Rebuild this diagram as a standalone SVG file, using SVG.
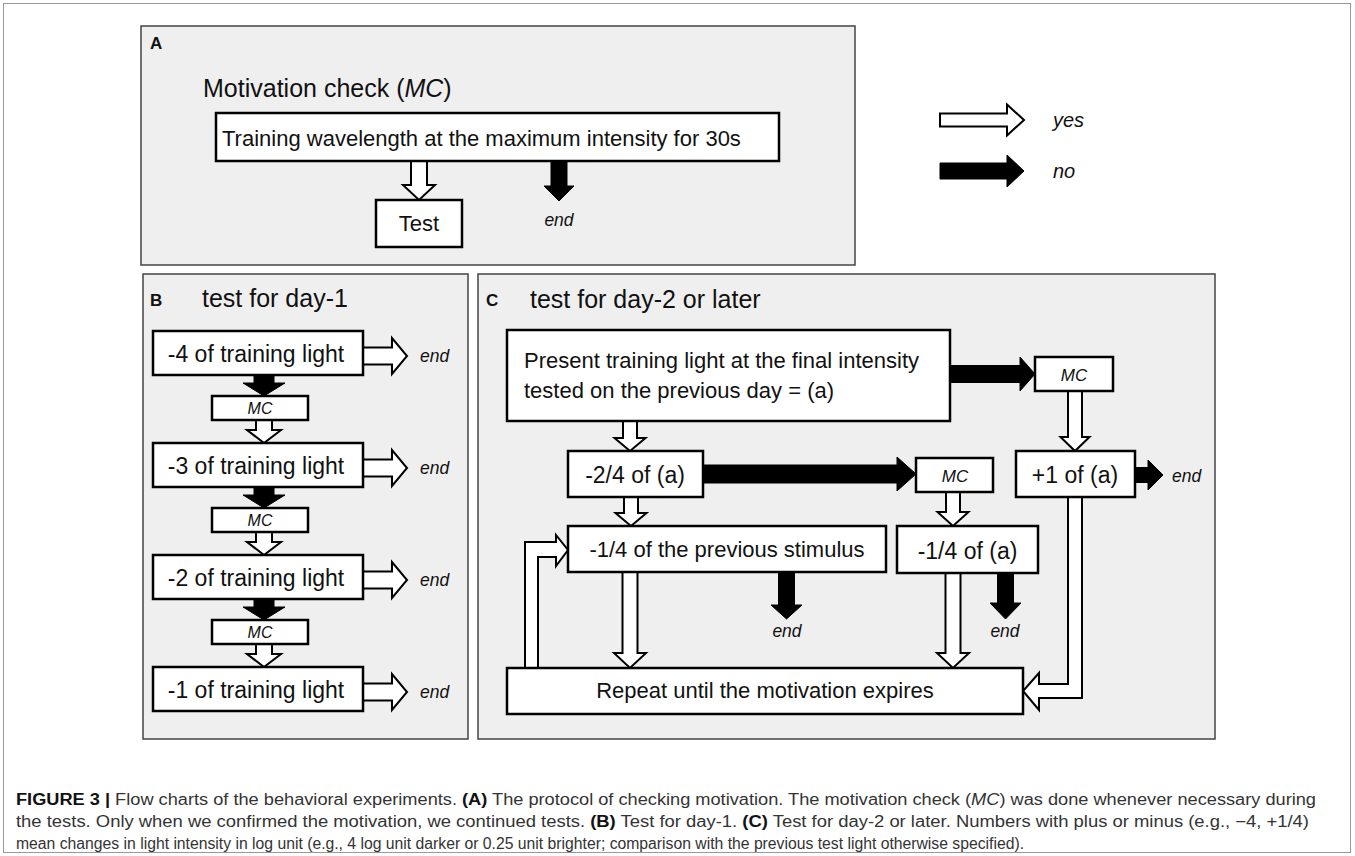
<svg xmlns="http://www.w3.org/2000/svg" width="1355" height="856" viewBox="0 0 1355 856">
<style>
  text { font-family: "Liberation Sans", Arial, sans-serif; fill: #111; }
  .panel { fill: #efefef; stroke: #444; stroke-width: 1.5; }
  .box { fill: #fff; stroke: #000; stroke-width: 2.5; }
  .t { font-size: 22px; }
  .tb { font-size: 23px; }
  .title { font-size: 25px; }
  .lab { font-size: 17px; font-weight: bold; }
  .mc { font-style: italic; }
  .end { font-size: 17.5px; font-style: italic; }
  .yes { fill: #fff; stroke: #000; stroke-width: 2; stroke-linejoin: miter; }
  .no { fill: #000; stroke: #000; stroke-width: 1; }
  .cap { font-size: 16px; fill: #333; }
  .capb { font-weight: bold; fill: #111; }
</style>
<rect x="3.5" y="3.5" width="1347" height="849" fill="#fff" stroke="#999" stroke-width="1"/>

<!-- panels -->
<g id="panelA">
  <rect class="panel" x="141" y="26" width="714" height="239"/>
  <text class="lab" x="150" y="49">A</text>
  <text class="title" x="203" y="97">Motivation check (<tspan class="mc">MC</tspan>)</text>
</g>
<g id="panelB">
  <rect class="panel" x="143" y="274" width="325" height="465"/>
  <text class="lab" x="150" y="306">B</text>
  <text class="title" x="202" y="307">test for day-1</text>
</g>
<g id="panelC">
  <rect class="panel" x="478" y="274" width="737" height="465"/>
  <text class="lab" x="486" y="306">C</text>
  <text class="title" x="530" y="308">test for day-2 or later</text>
</g>

<!-- legend -->
<g id="legend">
  <path class="yes" d="M940,113.5 L1007,113.5 L1007,104.5 L1024,120 L1007,135.5 L1007,126.5 L940,126.5 Z"/>
  <text class="mc" x="1053" y="127" font-size="20">yes</text>
  <path class="no" d="M940,163 L1007,163 L1007,155 L1024,171 L1007,187 L1007,179 L940,179 Z"/>
  <text class="mc" x="1053" y="178" font-size="20">no</text>
</g>

<!-- connectors -->
<g id="connectors">
  <!-- A -->
  <path class="yes" d="M411,161 L427,161 L427,185 L435,185 L419,200 L403,185 L411,185 Z"/>
  <path class="no" d="M551,161 L567,161 L567,186 L574,186 L559,201 L544,186 L551,186 Z"/>
  <!-- B: right hollow arrows -->
  <path class="yes" d="M363,347.5 L392,347.5 L392,338 L407,356 L392,374 L392,364.5 L363,364.5 Z"/>
  <path class="yes" d="M363,459.5 L392,459.5 L392,450 L407,468 L392,486 L392,476.5 L363,476.5 Z"/>
  <path class="yes" d="M363,571.5 L392,571.5 L392,562 L407,580 L392,598 L392,588.5 L363,588.5 Z"/>
  <path class="yes" d="M363,683.5 L392,683.5 L392,674 L407,692 L392,710 L392,700.5 L363,700.5 Z"/>
  <!-- B: black down arrows -->
  <path class="no" d="M254,375 L274,375 L274,383 L285,383 L264,396 L243,383 L254,383 Z"/>
  <path class="no" d="M254,487 L274,487 L274,495 L285,495 L264,508 L243,495 L254,495 Z"/>
  <path class="no" d="M254,599 L274,599 L274,607 L285,607 L264,620 L243,607 L254,607 Z"/>
  <!-- B: hollow down arrows -->
  <path class="yes" d="M256,420 L272,420 L272,430 L281,430 L264,443 L247,430 L256,430 Z"/>
  <path class="yes" d="M256,532 L272,532 L272,542 L281,542 L264,555 L247,542 L256,542 Z"/>
  <path class="yes" d="M256,644 L272,644 L272,654 L281,654 L264,667 L247,654 L256,654 Z"/>
  <!-- C -->
  <path class="no" d="M950,365.5 L1020,365.5 L1020,357 L1035,374 L1020,391 L1020,382.5 L950,382.5 Z"/>
  <path class="yes" d="M1068,391 L1082,391 L1082,437 L1089.5,437 L1075,451 L1060.5,437 L1068,437 Z"/>
  <path class="no" d="M1135,467.5 L1148,467.5 L1148,460 L1163,475 L1148,490 L1148,482.5 L1135,482.5 Z"/>
  <path class="yes" d="M623,421 L637,421 L637,438 L645.5,438 L630,451 L614.5,438 L623,438 Z"/>
  <path class="no" d="M703,465 L897,465 L897,457 L916,474 L897,491 L897,483 L703,483 Z"/>
  <path class="yes" d="M624,497 L638,497 L638,513 L646.5,513 L631,526 L615.5,513 L624,513 Z"/>
  <path class="yes" d="M946,492 L960,492 L960,512 L968.5,512 L953,526 L937.5,512 L946,512 Z"/>
  <path class="yes" d="M622.5,572 L637.5,572 L637.5,653 L646,653 L630,668 L614,653 L622.5,653 Z"/>
  <path class="no" d="M778.5,572 L794.5,572 L794.5,605 L802,605 L786.5,619 L771,605 L778.5,605 Z"/>
  <path class="yes" d="M945.5,573 L960.5,573 L960.5,653 L969,653 L953,668 L937,653 L945.5,653 Z"/>
  <path class="no" d="M997.5,573 L1013.5,573 L1013.5,603 L1021,603 L1005.5,619 L990,603 L997.5,603 Z"/>
  <path class="yes" d="M525,668 L525,542 L556,542 L556,535 L568,550 L556,566 L556,557 L538,557 L538,668 Z"/>
  <path class="yes" d="M1068,497 L1068,684 L1039,684 L1039,673 L1023,691 L1039,710 L1039,698 L1082,698 L1082,497 Z"/>
</g>

<!-- nodes panel A -->
<g id="nA1">
  <rect class="box" x="216" y="113" width="563" height="48"/>
  <text class="t" x="222" y="146">Training wavelength at the maximum intensity for 30s</text>
</g>
<g id="nA2">
  <rect class="box" x="376" y="200" width="86" height="47"/>
  <text class="t" x="419" y="231" text-anchor="middle">Test</text>
</g>
<text class="end" x="559" y="226" text-anchor="middle">end</text>

<!-- nodes panel B -->
<g id="nB1">
  <rect class="box" x="153" y="331" width="210" height="44"/>
  <text class="tb" x="256" y="362" text-anchor="middle">-4 of training light</text>
</g>
<g id="nBmc1">
  <rect class="box" x="212" y="396" width="96" height="24"/>
  <text class="mc" x="260" y="414" font-size="16" text-anchor="middle">MC</text>
</g>
<g id="nB2">
  <rect class="box" x="153" y="443" width="210" height="44"/>
  <text class="tb" x="256" y="474" text-anchor="middle">-3 of training light</text>
</g>
<g id="nBmc2">
  <rect class="box" x="212" y="508" width="96" height="24"/>
  <text class="mc" x="260" y="526" font-size="16" text-anchor="middle">MC</text>
</g>
<g id="nB3">
  <rect class="box" x="153" y="555" width="210" height="44"/>
  <text class="tb" x="256" y="586" text-anchor="middle">-2 of training light</text>
</g>
<g id="nBmc3">
  <rect class="box" x="212" y="620" width="96" height="24"/>
  <text class="mc" x="260" y="638" font-size="16" text-anchor="middle">MC</text>
</g>
<g id="nB4">
  <rect class="box" x="153" y="667" width="210" height="44"/>
  <text class="tb" x="256" y="698" text-anchor="middle">-1 of training light</text>
</g>
<text class="end" x="420" y="362">end</text>
<text class="end" x="420" y="474">end</text>
<text class="end" x="420" y="586">end</text>
<text class="end" x="420" y="698">end</text>

<!-- nodes panel C -->
<g id="nC1">
  <rect class="box" x="507" y="330" width="443" height="91"/>
  <text class="t" x="524" y="368">Present training light at the final intensity</text>
  <text class="t" x="524" y="398">tested on the previous day = (a)</text>
</g>
<g id="nCmc1">
  <rect class="box" x="1035" y="357" width="78" height="34"/>
  <text class="mc" x="1074" y="381" font-size="17" text-anchor="middle">MC</text>
</g>
<g id="nCplus">
  <rect class="box" x="1016" y="451" width="119" height="46"/>
  <text class="tb" x="1075" y="483" text-anchor="middle">+1 of (a)</text>
</g>
<g id="nC24">
  <rect class="box" x="568" y="451" width="135" height="46"/>
  <text class="tb" x="635" y="483" text-anchor="middle">-2/4 of (a)</text>
</g>
<g id="nCmc2">
  <rect class="box" x="916" y="458" width="77" height="34"/>
  <text class="mc" x="955" y="482" font-size="17" text-anchor="middle">MC</text>
</g>
<g id="nCprev">
  <rect class="box" x="568" y="526" width="318" height="46"/>
  <text class="t" x="727" y="557" text-anchor="middle">-1/4 of the previous stimulus</text>
</g>
<g id="nC14">
  <rect class="box" x="897" y="526" width="141" height="47"/>
  <text class="tb" x="967.5" y="559" text-anchor="middle">-1/4 of (a)</text>
</g>
<g id="nCrep">
  <rect class="box" x="507" y="668" width="516" height="46"/>
  <text class="t" x="765" y="698" text-anchor="middle">Repeat until the motivation expires</text>
</g>
<text class="end" x="1172" y="482">end</text>
<text class="end" x="787" y="637" text-anchor="middle">end</text>
<text class="end" x="1005" y="637" text-anchor="middle">end</text>

<!-- caption -->
<g id="caption">
  <text class="cap" x="16" y="805" textLength="1300" lengthAdjust="spacingAndGlyphs"><tspan class="capb">FIGURE 3 |</tspan> Flow charts of the behavioral experiments. <tspan class="capb">(A)</tspan> The protocol of checking motivation. The motivation check (<tspan font-style="italic">MC</tspan>) was done whenever necessary during</text>
  <text class="cap" x="16" y="827" textLength="1293" lengthAdjust="spacingAndGlyphs">the tests. Only when we confirmed the motivation, we continued tests. <tspan class="capb">(B)</tspan> Test for day-1. <tspan class="capb">(C)</tspan> Test for day-2 or later. Numbers with plus or minus (e.g., −4, +1/4)</text>
  <text class="cap" x="16" y="849" textLength="1008" lengthAdjust="spacingAndGlyphs">mean changes in light intensity in log unit (e.g., 4 log unit darker or 0.25 unit brighter; comparison with the previous test light otherwise specified).</text>
</g>
</svg>
